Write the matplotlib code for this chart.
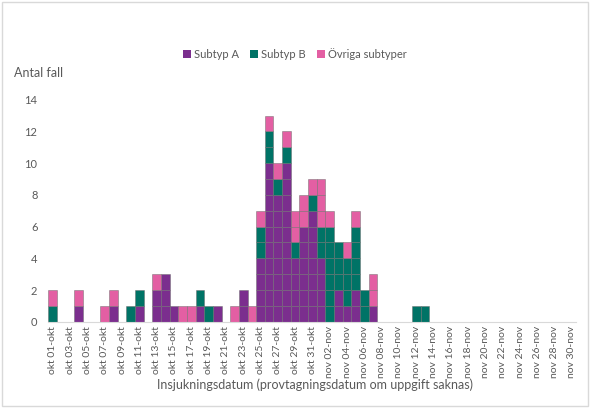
import matplotlib.pyplot as plt
import numpy as np
import pandas as pd
from matplotlib.patches import Rectangle

plt.rcParams['font.family'] = ['Lato', 'DejaVu Sans']

# Cases per day, okt 01 .. nov 30
subtyp_a = [0, 0, 0, 1, 0, 0, 0, 1, 0, 0,
            1, 0, 2, 3, 1, 0, 0, 1, 0, 1,
            0, 0, 2, 0, 4, 10, 8, 10, 4, 6,
            7, 4, 0, 2, 1, 2, 0, 1, 0, 0,
            0, 0, 0, 0, 0, 0, 0, 0, 0, 0,
            0, 0, 0, 0, 0, 0, 0, 0, 0, 0, 0]
subtyp_b = [1, 0, 0, 0, 0, 0, 0, 0, 0, 1,
            1, 0, 0, 0, 0, 0, 0, 1, 1, 0,
            0, 0, 0, 0, 2, 2, 1, 1, 1, 0,
            1, 2, 6, 3, 3, 4, 2, 0, 0, 0,
            0, 0, 1, 1, 0, 0, 0, 0, 0, 0,
            0, 0, 0, 0, 0, 0, 0, 0, 0, 0, 0]
ovriga = [1, 0, 0, 1, 0, 0, 1, 1, 0, 0,
          0, 0, 1, 0, 0, 1, 1, 0, 0, 0,
          0, 1, 0, 1, 1, 1, 1, 1, 2, 2,
          1, 3, 1, 0, 1, 1, 0, 2, 0, 0,
          0, 0, 0, 0, 0, 0, 0, 0, 0, 0,
          0, 0, 0, 0, 0, 0, 0, 0, 0, 0, 0]

series_names = ['Subtyp A', 'Subtyp B', 'Övriga subtyper']
series_colors = ['#7B2E8E', '#007366', '#E35FA3']

dates = pd.date_range('2023-10-01', '2023-11-30')
month_names = {10: 'okt', 11: 'nov'}
date_labels = [f"{month_names[d.month]} {d.day:02d}-{month_names[d.month]}" for d in dates]

fig = plt.figure(figsize=(5.9, 4.08), dpi=100)
ax = fig.add_axes([0.0822, 0.2115, 0.8946, 0.5439])

x = np.arange(len(dates))
base = np.zeros(len(dates))
for values, name, color in zip([subtyp_a, subtyp_b, ovriga], series_names, series_colors):
    values = np.array(values)
    # one box per case, so the bars look like a grid of cells
    for k in range(values.max()):
        mask = values > k
        ax.bar(x[mask], 1, bottom=base[mask] + k, width=1.0, color=color,
               edgecolor=(0.42, 0.42, 0.42, 0.55), linewidth=0.6)
    ax.bar([0], [0], color=color, label=name)
    base = base + values

ax.set_xlim(-0.5, len(dates) - 0.5)
ax.set_ylim(0, 14)
ax.set_yticks(range(0, 15, 2))
ax.set_xticks(x[::2])
ax.set_xticklabels(date_labels[::2], rotation=90, fontsize=7.5, color='#595959')
ax.tick_params(axis='y', length=0, labelsize=8, labelcolor='#595959', pad=8)
ax.tick_params(axis='x', length=0, pad=3)

for side in ['top', 'right', 'left']:
    ax.spines[side].set_visible(False)
ax.spines['bottom'].set_color('#D9D9D9')

fig.text(0.024, 0.821, 'Antal fall', fontsize=9, color='#595959', va='center')
fig.text(0.534, 0.057, 'Insjukningsdatum (provtagningsdatum om uppgift saknas)',
         fontsize=9, color='#595959', ha='center', va='center')

ax.legend(loc='center', bbox_to_anchor=(0.5, 0.867), bbox_transform=fig.transFigure,
          ncol=3, frameon=False, fontsize=8, labelcolor='#595959',
          handlelength=0.7, handleheight=0.7, handletextpad=0.3, columnspacing=1.0)

fig.patches.append(Rectangle((0.004, 0.004), 0.992, 0.992, transform=fig.transFigure,
                             fill=False, edgecolor='#D9D9D9', linewidth=1))

fig.savefig('out.png', dpi=100)
